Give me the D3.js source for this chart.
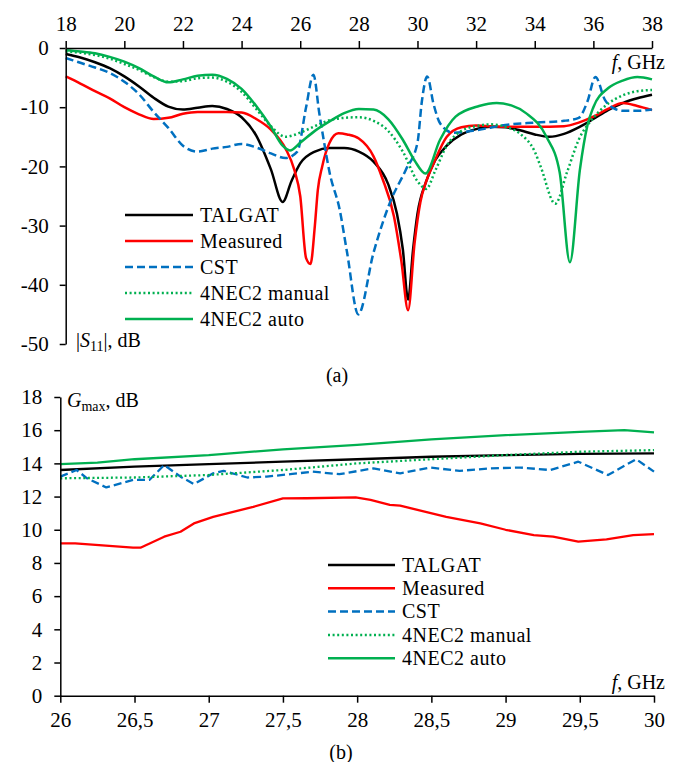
<!DOCTYPE html>
<html>
<head>
<meta charset="utf-8">
<script src="https://cdn.jsdelivr.net/npm/d3@7"></script>
<style>
  body { margin: 0; background: #fff; }
  svg text { font-family: 'Liberation Serif', 'Times New Roman', serif; fill: #000; }
</style>
</head>
<body>
<svg id="chart" width="681" height="762"></svg>
<script>
'use strict';

// ---- data: panel (a) |S11|, dB vs f, GHz ----
var s11Talgat = [[18,-1.0],[18.5,-1.6],[19,-2.4],[19.5,-3.4],[20,-4.8],[20.5,-6.5],[21,-8.4],[21.5,-9.9],[22,-10.4],[22.5,-10.1],[23,-9.8],[23.5,-10.3],[24,-11.7],[24.5,-14.8],[25,-20.5],[25.4,-26],[25.7,-22.5],[26,-19.5],[26.5,-17.5],[27,-16.9],[27.5,-16.9],[28,-17.5],[28.5,-19.2],[29,-23],[29.3,-28],[29.5,-34],[29.68,-42.5],[29.85,-34],[30,-28],[30.3,-22.5],[30.6,-19],[31,-16.5],[31.5,-14.6],[32,-13.7],[32.5,-13.3],[33,-13.4],[33.5,-13.9],[34,-14.6],[34.5,-15],[35,-14.5],[35.5,-13.4],[36,-12],[36.5,-10.5],[37,-9.3],[37.5,-8.5],[38,-7.9]];
var s11Measured = [[18,-4.8],[18.5,-6],[19,-7.3],[19.5,-8.5],[20,-10],[20.5,-11.2],[21,-12],[21.5,-11.8],[22,-11.1],[22.5,-10.8],[23,-10.8],[23.5,-10.8],[24,-10.9],[24.5,-12],[25,-13.8],[25.5,-17],[25.8,-20.6],[26,-25],[26.2,-35.5],[26.35,-36.5],[26.5,-30],[26.6,-24],[26.75,-20],[27,-16],[27.3,-14.4],[27.6,-14.6],[28,-15.3],[28.5,-18.3],[28.8,-22],[29.2,-28.5],[29.45,-36],[29.68,-44.3],[29.9,-33],[30.1,-26],[30.3,-22.5],[30.55,-19.5],[31,-15],[31.5,-13.4],[32,-13.1],[32.5,-13.2],[33,-13.3],[34,-13.3],[35,-13.2],[35.5,-12.6],[36,-11.6],[36.5,-10.3],[37,-9.3],[37.5,-9.8],[38,-10.5]];
var s11Cst = [[18,-1.7],[18.5,-2.5],[19,-3.3],[19.5,-4.2],[20,-5.7],[20.5,-7.8],[21,-10.8],[21.5,-13.5],[22,-16.5],[22.5,-17.5],[23,-17],[23.5,-16.7],[24,-16.2],[24.5,-16.8],[25,-17.8],[25.5,-18.6],[25.9,-17.5],[26.2,-10],[26.45,-4.5],[26.65,-11],[26.8,-15.5],[27,-21],[27.35,-27.4],[27.6,-34.6],[27.98,-45],[28.5,-34.6],[29.07,-26],[29.6,-20.6],[30,-16],[30.15,-9],[30.33,-4.8],[30.55,-9.5],[30.77,-12.7],[31.2,-14.3],[32,-13.9],[33,-13],[34,-12.6],[35,-12.3],[35.5,-11.8],[35.8,-9],[36.07,-4.9],[36.4,-8.8],[36.7,-10.2],[37,-10.6],[37.5,-10.6],[38,-10.4]];
var s11NecManual = [[18,-0.6],[18.5,-0.8],[19,-1.2],[19.5,-1.8],[20,-2.7],[20.5,-3.7],[21,-4.9],[21.5,-5.7],[22,-5.6],[22.5,-5.1],[23,-5],[23.5,-5.7],[24,-7.4],[24.5,-10.3],[25,-13.2],[25.5,-15],[26,-14.3],[26.5,-13.2],[27,-12.2],[27.5,-11.8],[28,-11.7],[28.5,-12.3],[29,-14],[29.5,-17.5],[30,-22.5],[30.3,-23.8],[30.6,-20.8],[31,-16.5],[31.5,-14],[32,-13.2],[32.5,-12.9],[33,-13.3],[33.5,-14.5],[34,-17.5],[34.2,-20],[34.7,-26.3],[35.1,-21],[35.5,-15.5],[36,-11.8],[36.5,-9.4],[37,-8],[37.5,-7.3],[38,-7.1]];
var s11NecAuto = [[18,-0.4],[18.5,-0.6],[19,-0.9],[19.5,-1.5],[20,-2.3],[20.5,-3.4],[21,-4.8],[21.5,-5.8],[22,-5.3],[22.5,-4.7],[23,-4.5],[23.5,-5.2],[24,-6.9],[24.5,-9.8],[25,-13.3],[25.4,-16.5],[25.65,-17.3],[26,-16],[26.5,-14],[27,-12.4],[27.5,-11],[28,-10.3],[28.5,-10.4],[29,-12],[29.5,-15.5],[29.9,-19],[30.27,-21.2],[30.77,-15.5],[31.3,-11.6],[32.1,-9.8],[32.7,-9.3],[33.2,-9.7],[33.7,-11],[34.4,-15],[34.85,-21],[35.2,-36.2],[35.54,-20.6],[35.8,-13],[36,-10],[36.5,-6.8],[37,-5.5],[37.5,-4.9],[38,-5.3]];

// ---- data: panel (b) Gmax, dB vs f, GHz ----
var gTalgat = [[26,13.6],[26.5,13.8],[27,13.95],[27.5,14.1],[28,14.25],[28.5,14.4],[29,14.5],[29.5,14.57],[30,14.6]];
var gMeasured = [[26,9.18],[26.1,9.18],[26.49,8.92],[26.54,8.92],[26.7,9.58],[26.81,9.88],[26.9,10.38],[27.03,10.78],[27.3,11.38],[27.5,11.89],[27.66,11.9],[27.99,11.95],[28.09,11.8],[28.22,11.5],[28.29,11.45],[28.6,10.78],[28.83,10.38],[29,10.0],[29.19,9.68],[29.32,9.58],[29.49,9.28],[29.68,9.42],[29.86,9.68],[30,9.74]];
var gCst = [[26,13.2],[26.11,13.6],[26.18,13.1],[26.31,12.55],[26.49,13.0],[26.6,13.0],[26.7,13.9],[26.81,13.2],[26.9,12.75],[27.03,13.4],[27.1,13.55],[27.26,13.15],[27.39,13.2],[27.55,13.35],[27.7,13.5],[27.88,13.35],[28.11,13.7],[28.29,13.4],[28.49,13.75],[28.69,13.55],[28.9,13.7],[29.1,13.75],[29.3,13.6],[29.49,14.1],[29.69,13.3],[29.88,14.25],[30,13.5]];
var gNecManual = [[26,13.1],[26.5,13.15],[27,13.3],[27.5,13.6],[28,14.0],[28.5,14.25],[29,14.5],[29.5,14.7],[30,14.8]];
var gNecAuto = [[26,13.95],[26.25,14.05],[26.5,14.25],[27,14.5],[27.5,14.85],[28,15.12],[28.5,15.45],[29,15.7],[29.5,15.9],[29.8,16.0],[30,15.87]];

var legendNames = ['TALGAT', 'Measured', 'CST', '4NEC2 manual', '4NEC2 auto'];
var s11Ticks = [18, 20, 22, 24, 26, 28, 30, 32, 34, 36, 38];
var s11YTicks = [0, -10, -20, -30, -40, -50];
var gTicks = [26, 26.5, 27, 27.5, 28, 28.5, 29, 29.5, 30];
var gYTicks = [0, 2, 4, 6, 8, 10, 12, 14, 16, 18];

// line styles per series, same order as legendNames
var styles = [
    { color: '#000000', dash: null },
    { color: '#ff0000', dash: null },
    { color: '#0070c0', dash: '8,4' },
    { color: '#00b050', dash: '2,2.6' },
    { color: '#00b050', dash: null }
];

var svg = d3.select('#chart');
var TICK_FONT = 21;
var FONT = 20;

function commaFormat(d) {
    return String(d).replace('.', ',').replace('\u2212', '-');
}

function styleAxis(g) {
    g.selectAll('path.domain').attr('stroke', '#000').attr('stroke-width', 1.5);
    g.selectAll('.tick line').attr('stroke', '#000').attr('stroke-width', 1.5);
    g.selectAll('.tick text')
        .attr('font-family', "'Liberation Serif', 'Times New Roman', serif")
        .attr('font-size', TICK_FONT)
        .attr('fill', '#000');
}

function drawLines(g, series, x, y, curve, width) {
    var line = d3.line()
        .x(function(d) { return x(d[0]); })
        .y(function(d) { return y(d[1]); })
        .curve(curve);
    series.forEach(function(s, i) {
        g.append('path')
            .datum(s)
            .attr('fill', 'none')
            .attr('stroke', styles[i].color)
            .attr('stroke-width', width)
            .attr('stroke-dasharray', styles[i].dash)
            .attr('stroke-linejoin', 'round')
            .attr('d', line);
    });
}

function drawLegend(g, x0, x1, tx, y0, step) {
    legendNames.forEach(function(name, i) {
        var yy = y0 + i * step;
        g.append('line')
            .attr('x1', x0).attr('x2', x1)
            .attr('y1', yy).attr('y2', yy)
            .attr('stroke', styles[i].color)
            .attr('stroke-width', 2.5)
            .attr('stroke-dasharray', styles[i].dash);
        g.append('text')
            .attr('x', tx).attr('y', yy)
            .attr('dy', '0.34em')
            .attr('font-size', FONT)
            .attr('letter-spacing', 0.5)
            .text(name);
    });
}

// ============ panel (a) ============
var xA = d3.scaleLinear().domain([18, 38]).range([65.7, 652]);
var yA = d3.scaleLinear().domain([0, -50]).range([48, 344]);
var gA = svg.append('g');

drawLines(gA, [s11Talgat, s11Measured, s11Cst, s11NecManual, s11NecAuto], xA, yA, d3.curveMonotoneX, 2.5);

var xAxisA = gA.append('g')
    .attr('transform', 'translate(0,' + yA(0) + ')')
    .call(d3.axisTop(xA).tickValues(s11Ticks).tickSize(7).tickSizeOuter(0).tickPadding(10).tickFormat(commaFormat));
styleAxis(xAxisA);

var yAxisA = gA.append('g')
    .attr('transform', 'translate(' + xA(18) + ',0)')
    .call(d3.axisLeft(yA).tickValues(s11YTicks).tickSize(6).tickSizeOuter(0).tickPadding(11).tickFormat(commaFormat));
styleAxis(yAxisA);

var fLabelA = gA.append('text').attr('x', 665).attr('y', 69).attr('text-anchor', 'end').attr('font-size', FONT);
fLabelA.append('tspan').attr('font-style', 'italic').text('f');
fLabelA.append('tspan').text(', GHz');

var sLabel = gA.append('text').attr('x', 76).attr('y', 347).attr('font-size', FONT);
sLabel.append('tspan').text('|');
sLabel.append('tspan').attr('font-style', 'italic').text('S');
sLabel.append('tspan').attr('font-size', 14).attr('dy', 4).text('11');
sLabel.append('tspan').attr('dy', -4).text('|, dB');

drawLegend(gA, 125, 193, 200, 215, 26);

svg.append('text').attr('x', 337).attr('y', 382).attr('text-anchor', 'middle').attr('font-size', FONT).text('(a)');

// ============ panel (b) ============
var xB = d3.scaleLinear().domain([26, 30]).range([60.3, 654]);
var yB = d3.scaleLinear().domain([0, 18]).range([695.7, 397]);
var gB = svg.append('g');

drawLines(gB, [gTalgat, gMeasured, gCst, gNecManual, gNecAuto], xB, yB, d3.curveLinear, 2.3);

var xAxisB = gB.append('g')
    .attr('transform', 'translate(0,' + yB(0) + ')')
    .call(d3.axisBottom(xB).tickValues(gTicks).tickSize(7).tickSizeOuter(0).tickPadding(9).tickFormat(commaFormat));
styleAxis(xAxisB);

var yAxisB = gB.append('g')
    .attr('transform', 'translate(' + xB(26) + ',0)')
    .call(d3.axisLeft(yB).tickValues(gYTicks).tickSize(6).tickSizeOuter(0).tickPadding(12).tickFormat(commaFormat));
styleAxis(yAxisB);

var gLabel = gB.append('text').attr('x', 67).attr('y', 407).attr('font-size', FONT);
gLabel.append('tspan').attr('font-style', 'italic').text('G');
gLabel.append('tspan').attr('font-size', 14).attr('dy', 4).text('max');
gLabel.append('tspan').attr('dy', -4).text(', dB');

var fLabelB = gB.append('text').attr('x', 665).attr('y', 689).attr('text-anchor', 'end').attr('font-size', FONT);
fLabelB.append('tspan').attr('font-style', 'italic').text('f');
fLabelB.append('tspan').text(', GHz');

drawLegend(gB, 328, 395, 402, 565, 23.3);

svg.append('text').attr('x', 341).attr('y', 759).attr('text-anchor', 'middle').attr('font-size', FONT).text('(b)');
</script>
</body>
</html>
